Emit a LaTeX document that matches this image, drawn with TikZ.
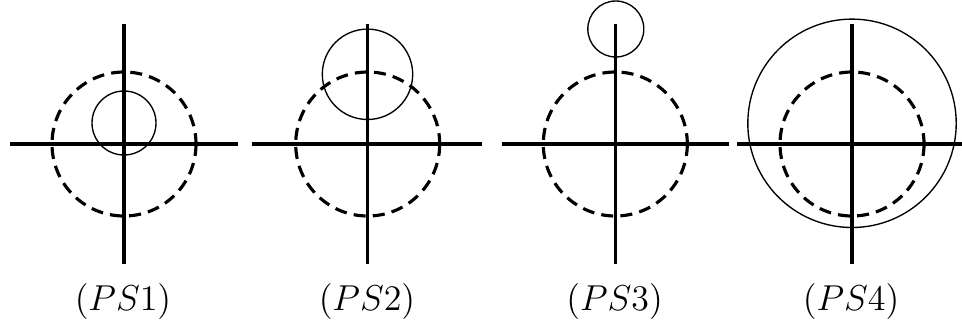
\documentclass[tikz,border=0pt]{standalone}
\begin{document}
\begin{tikzpicture}[x=0.33333pt,y=-0.33333pt,
  axis/.style={line width=1.05pt},
  dcirc/.style={line width=1.05pt,dash pattern=on 4pt off 2.4pt},
  scirc/.style={line width=0.45pt},
  lab/.style={anchor=base,inner sep=0pt,font=\fontsize{13}{15}\selectfont}]
\useasboundingbox (0,0) rectangle (962,321);
% panel 1
\coordinate (o1) at (124,144);
\draw[axis] (10,144) -- (238,144);
\draw[axis] (124,24) -- (124,264);
\draw[dcirc] (o1) circle [radius=72];
\draw[scirc] (124,123) circle [radius=32];
\node[lab] (l1) at (123,310) {$(PS1)$};
% panel 2
\coordinate (o2) at (367.7,144);
\draw[axis] (252,144) -- (482,144);
\draw[axis] (367.7,24) -- (367.7,264);
\draw[dcirc] (o2) circle [radius=72];
\draw[scirc] (367.5,74.3) circle [radius=45.2];
\node[lab] (l2) at (367,310) {$(PS2)$};
% panel 3
\coordinate (o3) at (615.3,144);
\draw[axis] (501.5,144) -- (729.3,144);
\draw[axis] (615.3,24) -- (615.3,264);
\draw[dcirc] (o3) circle [radius=72];
\draw[scirc] (615.8,29) circle [radius=28];
\node[lab] (l3) at (614.5,310) {$(PS3)$};
% panel 4
\coordinate (o4) at (852,144);
\draw[axis] (737,144) -- (967,144);
\draw[axis] (852,24) -- (852,264);
\draw[dcirc] (o4) circle [radius=72];
\draw[scirc] (852,123.3) circle [radius=104.2];
\node[lab] (l4) at (851,310) {$(PS4)$};
\end{tikzpicture}
\end{document}
